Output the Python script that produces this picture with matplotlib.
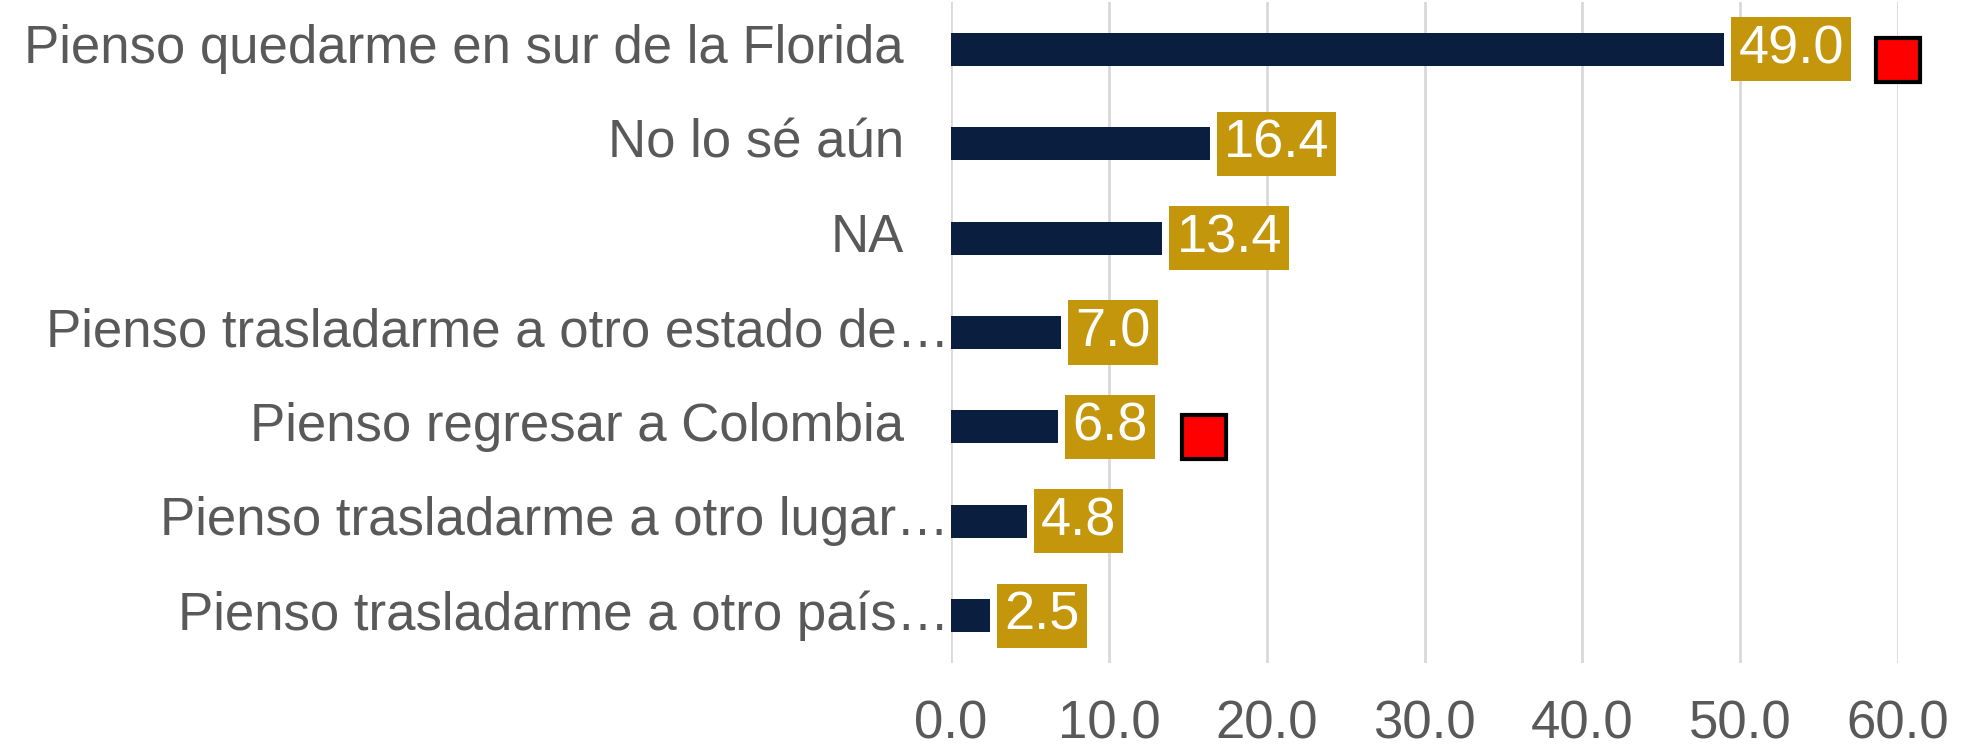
import numpy as np
import matplotlib.pyplot as plt

plt.rcParams['font.family'] = ['Liberation Sans', 'DejaVu Sans']

# datos
categorias = [
    "Pienso quedarme en sur de la Florida",
    "No lo sé aún",
    "NA",
    "Pienso trasladarme a otro estado de…",
    "Pienso regresar a Colombia",
    "Pienso trasladarme a otro lugar…",
    "Pienso trasladarme a otro país…",
]
valores = [49.0, 16.4, 13.4, 7.0, 6.8, 4.8, 2.5]
marcas = [60.0, np.nan, np.nan, np.nan, 16.0, np.nan, np.nan]
recortadas = [False, False, False, True, False, True, True]
ticks_x = [0, 10, 20, 30, 40, 50, 60]

azul = '#0A1F3F'
oro = '#C4960C'
gris = '#595959'

fig = plt.figure(figsize=(19.75, 7.49), dpi=100)
ax = fig.add_axes([951 / 1975, 1 - 663 / 749, (1898 - 951) / 1975, 661 / 749])

y = np.arange(len(categorias))
ax.barh(y, valores, height=0.35, color=azul, zorder=3)

# etiquetas de valor
for i, v in enumerate(valores):
    ax.annotate(f"{v:.1f}", xy=(v, i), xytext=(14, 0), textcoords='offset pixels',
                ha='left', va='center', fontsize=39, color='white', zorder=4,
                bbox=dict(boxstyle='square,pad=0.13', fc=oro, ec='none'))

# marcadores rojos
ax.plot(marcas, y + 0.11, linestyle='none', marker='s', markersize=32,
        markerfacecolor='#FF0000', markeredgecolor='black', markeredgewidth=3,
        clip_on=False, zorder=5)

# etiquetas de categoria
for i, c in enumerate(categorias):
    pad = 2 if recortadas[i] else 47
    ax.annotate(c, xy=(0, i), xytext=(-pad, 0), textcoords='offset pixels',
                ha='right', va='center', fontsize=38, color=gris)

ax.set_ylim(len(categorias) - 0.5, -0.5)
ax.set_xlim(0, 60)
ax.set_yticks([])
ax.set_xticks(ticks_x)
ax.set_xticklabels([f"{t:.1f}" for t in ticks_x], fontsize=38, color=gris)
ax.tick_params(axis='x', length=0, pad=26)
ax.grid(axis='x', color='#D9D9D9', linewidth=2, zorder=0)
for s in ax.spines.values():
    s.set_visible(False)

fig.savefig('out.png', dpi=100)
